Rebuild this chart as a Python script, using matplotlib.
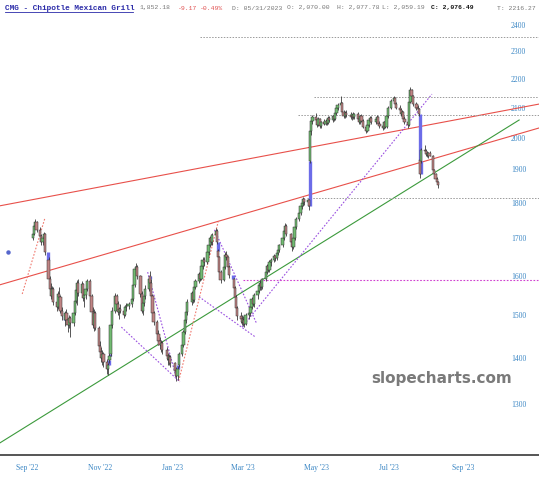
import matplotlib
matplotlib.use('Agg')
import matplotlib.pyplot as plt
import matplotlib.dates as mdates
from matplotlib.ticker import NullLocator, NullFormatter
import numpy as np
import pandas as pd

# ---------------- data ----------------
holidays = ['2022-11-24', '2022-12-26', '2023-01-02', '2023-01-16', '2023-02-20',
            '2023-04-07', '2023-05-29', '2023-06-19', '2023-07-04']
dates = pd.bdate_range('2022-09-06', '2023-08-11', freq='C', holidays=holidays)

opens = [
    1700,1712,1735,1745, 1722,1705,1688,1700,1712, 1640,1590,1565,1548,1566, 1532,1520,1552,1545,1512,
    1490,1505,1490,1478,1494, 1482,1505,1535,1562,1580, 1555,1578,1542,1550,1565, 1585,1548,1508,1478,1505, 1470,
    1428,1415,1400,1410, 1392,1375,1395,1410,1476, 1512,1548,1528,1508,1515, 1510,1502,1520,1524, 1528,1540,1575,
    1618,1622, 1598,1552,1512,1530,1548, 1565,1600,1582,1548,1505, 1485,1456,1440,1430,1435, 1418,1405,1398,1402,
    1388,1370,1360,1385, 1410,1430,1460,1490,1508, 1532,1555,1538,1570, 1585,1605,1592,1625,1640, 1635,1662,
    1682,1700,1688, 1708,1720,1665,1648,1608, 1588,1622,1655,1648,1622, 1590,1568,1545,1518, 1498,1492,
    1485,1490,1480, 1500,1505,1520,1540,1528, 1550,1560,1575,1580,1570, 1590,1610,1625,1615,1635, 1640,1652,1645,1660,1668,
    1680,1700,1720,1735, 1712,1690,1675,1700,1730, 1752,1770,1790,1800,1812, 1802,1808,1925,2022,2055,
    2068,2058,2042,2062,2038, 2050,2045,2056,2048,2065, 2058,2070,2062,2080,2100, 2108,2115,2085,2072,2082, 2075,2070,
    2076,2068, 2078,2062,2050,2070,2055, 2035,2022,2040,2058,2066, 2050,2062,2068,2046, 2038,2032,2050,2036,2070,
    2100, 2122,2132,2112, 2100,2092,2078,2085,2060, 2052,2040,2120,2160,2138, 2112,2100,2095,1930,1925, 1962,
    1958,1948,1945,1950, 1942,1898,1885,1872,1861.35,
]
highs = [
    1720,1740,1752,1748, 1730,1710,1705,1718,1715, 1650,1598,1580,1572,1570, 1545,1560,1570,1550,1520,
    1512,1515,1495,1500,1498, 1510,1540,1570,1588,1590, 1585,1582,1560,1572,1592, 1590,1552,1520,1515,1510, 1475,
    1440,1425,1418,1415, 1398,1390,1412,1482,1520, 1555,1552,1535,1520,1528, 1518,1525,1530,1532, 1545,1580,1625,
    1632,1628, 1602,1560,1535,1555,1575, 1600,1612,1590,1552,1510, 1490,1465,1448,1442,1440, 1425,1412,1410,1406,
    1392,1380,1382,1415, 1440,1465,1495,1515,1540, 1560,1565,1575,1590, 1610,1612,1630,1648,1650, 1668,1688,
    1705,1712,1715, 1728,1724,1670,1652,1615, 1628,1662,1665,1652,1628, 1595,1572,1550,1522, 1508,1500,
    1498,1495,1505, 1512,1525,1545,1548,1555, 1568,1580,1588,1585,1595, 1615,1630,1628,1640,1645, 1658,1655,1665,1672,1685,
    1705,1725,1742,1738, 1715,1695,1705,1735,1758, 1775,1795,1808,1818,1815, 1812,1812,2030,2060,2075,
    2080,2065,2068,2066,2055, 2062,2060,2065,2070,2072, 2075,2078,2085,2105,2115, 2138,2120,2092,2088,2090, 2085,2077.78,
    2085,2082, 2085,2070,2075,2078,2060, 2040,2045,2062,2072,2070, 2068,2075,2072,2055, 2045,2055,2058,2075,2105,
    2128, 2140,2135,2118, 2108,2100,2090,2088,2070, 2058,2125,2172,2165,2142, 2118,2110,2098,1935,1968, 1975,
    1965,1958,1955,1958, 1945,1902,1890,1878,1866,
]
lows = [
    1695,1708,1728,1718, 1700,1680,1682,1695,1655, 1585,1555,1540,1540,1525, 1510,1515,1540,1505,1490,
    1475,1485,1460,1470,1448, 1475,1500,1530,1525,1548, 1550,1535,1520,1540,1560, 1540,1500,1470,1462,1465, 1420,
    1405,1392,1385,1380, 1365,1362,1388,1405,1470, 1505,1520,1500,1492,1505, 1495,1498,1510,1515, 1520,1535,1570,
    1605,1590, 1545,1505,1500,1522,1540, 1560,1575,1540,1500,1478, 1450,1430,1420,1415,1410, 1395,1385,1385,1380,
    1360,1350,1352,1380, 1405,1425,1455,1482,1500, 1525,1530,1532,1565, 1580,1585,1588,1618,1625, 1630,1655,
    1675,1680,1682, 1700,1685,1640,1600,1580, 1585,1618,1640,1615,1595, 1560,1538,1510,1490, 1482,1478,
    1475,1472,1476, 1492,1498,1515,1522,1520, 1540,1555,1562,1562,1565, 1585,1605,1608,1610,1625, 1635,1638,1642,1655,1662,
    1675,1695,1715,1705, 1680,1665,1670,1695,1725, 1748,1765,1782,1792,1795, 1790,1780,1920,2010,2045,
    2050,2035,2038,2030,2032, 2040,2040,2040,2044,2050, 2052,2055,2058,2075,2090, 2100,2080,2065,2066,2068, 2060,2059.19,
    2062,2060, 2058,2045,2045,2050,2030, 2015,2018,2035,2050,2045, 2045,2055,2040,2030, 2025,2028,2030,2032,2065,
    2095, 2115,2105,2095, 2085,2070,2065,2055,2045, 2030,2038,2115,2130,2105, 2092,2085,2070,1875,1920, 1950,
    1940,1938,1935,1940, 1892,1878,1865,1855,1845,
]
closes = [
    1712,1735,1745,1722, 1705,1688,1700,1712,1662, 1592,1565,1548,1566,1532, 1520,1552,1545,1512,1498,
    1505,1490,1478,1494,1482, 1505,1535,1562,1580,1555, 1578,1542,1550,1565,1585, 1548,1508,1478,1505,1470, 1428,
    1415,1400,1410,1392, 1375,1385,1405,1476,1512, 1548,1528,1508,1515,1510, 1502,1520,1524,1528, 1540,1575,1618,
    1622,1598, 1552,1512,1530,1548,1565, 1592,1582,1548,1505,1485, 1456,1440,1430,1435,1418, 1405,1398,1402,1388,
    1370,1360,1375,1410, 1430,1460,1490,1508,1532, 1555,1538,1570,1585, 1605,1592,1625,1640,1635, 1662,1682,
    1700,1688,1708, 1720,1690,1648,1608,1588, 1622,1655,1648,1622,1602, 1568,1545,1518,1498, 1492,1485,
    1490,1480,1500, 1505,1520,1540,1528,1550, 1560,1575,1580,1570,1590, 1610,1625,1615,1635,1640, 1652,1645,1660,1668,1680,
    1700,1720,1735,1712, 1690,1675,1700,1730,1752, 1770,1790,1800,1812,1802, 1808,1790,2022,2055,2068,
    2058,2042,2062,2038,2050, 2045,2056,2048,2065,2058, 2070,2062,2080,2100,2108, 2115,2085,2072,2082,2075, 2068,2076.49,
    2068,2078, 2062,2050,2070,2055,2035, 2022,2040,2058,2066,2050, 2062,2068,2046,2038, 2032,2050,2036,2070,2100,
    2122, 2132,2112,2100, 2092,2078,2085,2060,2052, 2040,2120,2160,2138,2112, 2100,2095,2078,1885,1962, 1958,
    1948,1945,1950,1942, 1898,1885,1872,1861.35,1852.18,
]

price_ticks = [1300, 1400, 1500, 1600, 1700, 1800, 1900, 2000, 2100, 2200, 2300, 2400]
month_ticks = ['2022-09-01', '2022-11-01', '2023-01-01', '2023-03-01', '2023-05-01', '2023-07-01', '2023-09-01']
month_labels = ["Sep '22", "Nov '22", "Jan '23", "Mar '23", "May '23", "Jul '23", "Sep '23"]

# drawn trend lines: (start date, start price, end date, end price)
red_lines = [('2022-08-09', 1791, '2023-11-04', 2112),
             ('2022-08-09', 1576, '2023-11-04', 2032)]
green_line = ('2022-08-09', 1220, '2023-10-18', 2058)
red_dotted = [('2022-08-28', 1553, '2022-09-16', 1756),
              ('2023-01-06', 1349, '2023-02-08', 1745)]
purple_dotted = [('2022-11-19', 1472, '2023-01-07', 1347),
                 ('2022-12-11', 1609, '2023-01-04', 1356),
                 ('2023-01-23', 1546, '2023-03-11', 1449),
                 ('2023-02-05', 1723, '2023-03-12', 1482),
                 ('2023-02-28', 1472, '2023-08-06', 2146)]
magenta_level = ('2023-03-01', 1588)
gray_levels = [('2023-01-24', 2355), ('2023-04-29', 2136),
               ('2023-04-16', 2075), ('2023-04-23', 1815)]
blue_dot = ('2022-08-16', 1662)

# ---------------- figure ----------------
W, H = 539, 480
fig = plt.figure(figsize=(W / 100, H / 100), dpi=100)
ax = fig.add_axes([0, (H - 455) / H, 1, 435 / H])
ax.set_facecolor('white')
ax.set_yscale('log')

x = mdates.date2num(dates.to_pydatetime())
o = np.array(opens, float); h = np.array(highs, float)
l = np.array(lows, float); c = np.array(closes, float)
assert len(x) == len(o) == len(h) == len(l) == len(c)

up = c >= o
green, red = '#72bb72', '#c08484'
body_w = 1.9

# gap lines
prev_c = np.r_[np.nan, c[:-1]]
gap = np.abs(o - prev_c) > 3
ax.vlines(x[gap] - 0.4, np.minimum(prev_c[gap], o[gap]), np.maximum(prev_c[gap], o[gap]),
          color='#6c6ce8', lw=2.4, zorder=3)

ax.vlines(x, l, h, color='#3a3a3a', lw=0.6, zorder=4)
bot = np.minimum(o, c)
hgt = np.maximum(np.abs(c - o), 1.0)
ax.bar(x, hgt, bottom=bot, width=body_w, color=np.where(up, green, red),
       edgecolor='#303030', linewidth=0.35, zorder=5)

def dn(s):
    return mdates.date2num(pd.Timestamp(s).to_pydatetime())

for d0, p0, d1, p1 in red_lines:
    ax.plot([dn(d0), dn(d1)], [p0, p1], color='#e8504a', lw=0.8, zorder=2)
d0, p0, d1, p1 = green_line
ax.plot([dn(d0), dn(d1)], [p0, p1], color='#3c9a3c', lw=0.8, zorder=2)
for d0, p0, d1, p1 in red_dotted:
    ax.plot([dn(d0), dn(d1)], [p0, p1], color='#f07a70', lw=0.8, ls=(0, (1.5, 1.5)), zorder=2)
for d0, p0, d1, p1 in purple_dotted:
    ax.plot([dn(d0), dn(d1)], [p0, p1], color='#9a50e0', lw=0.8, ls=(0, (1.5, 1.5)), zorder=2)

sep1 = dn('2022-09-01')
x_left = sep1 - 27 / 1.1945
x_right = sep1 + (W - 27) / 1.1945
ax.hlines(magenta_level[1], dn(magenta_level[0]), x_right, color='#d040d0', lw=0.8,
          linestyles=[(0, (1.5, 1.5))], zorder=2)
for d0, p in gray_levels:
    ax.hlines(p, dn(d0), x_right, color='#9a9a9a', lw=0.7, linestyles=[(0, (1.5, 1.5))], zorder=2)
ax.plot([dn(blue_dot[0])], [blue_dot[1]], marker='o', ms=2.2, color='#5566cc', zorder=6)

ax.set_xlim(x_left, x_right)
ax.set_ylim(1196.8, 2419.5)

# y tick labels inside at right
ax.yaxis.tick_right()
ax.yaxis.set_minor_locator(NullLocator())
ax.yaxis.set_minor_formatter(NullFormatter())
ax.set_yticks(price_ticks)
ax.set_yticklabels([str(v) for v in price_ticks])
ax.tick_params(axis='y', length=0, pad=-(W - 511) * 0.72, labelsize=5.5,
               labelcolor='#3a86c4')
for t in ax.get_yticklabels():
    t.set_fontfamily('Liberation Serif')

ax.set_xticks([dn(m) for m in month_ticks])
ax.set_xticklabels(month_labels)
ax.tick_params(axis='x', length=0, pad=6.5, labelsize=5.5, labelcolor='#3a86c4')
for t in ax.get_xticklabels():
    t.set_fontfamily('Liberation Serif')

for s in ['top', 'left', 'right']:
    ax.spines[s].set_visible(False)
ax.spines['bottom'].set_color('#555555')
ax.spines['bottom'].set_linewidth(1.4)

# watermark
fig.text(442 / W, 1 - 378 / H, 'slopecharts.com', ha='center', va='center',
         fontsize=11, fontweight='bold', color='#7a7a7a', family='DejaVu Sans')

# header
hy = 1 - 8 / H
mono = 'Liberation Mono'
fig.text(5 / W, hy, 'CMG - Chipotle Mexican Grill', fontsize=5.6, fontweight='bold',
         color='#2a2aa8', family=mono, va='center')
fig.add_artist(plt.Line2D([5 / W, 133 / W], [1 - 12 / H, 1 - 12 / H], color='#2a2aa8', lw=0.6))
pieces = [(140, '1,852.18', '#777777', 'normal'),
          (178, '-9.17', '#e05050', 'normal'),
          (200, '-0.49%', '#e05050', 'normal'),
          (232, 'D: 05/31/2023', '#777777', 'normal'),
          (287, 'O: 2,070.00', '#777777', 'normal'),
          (337, 'H: 2,077.78', '#777777', 'normal'),
          (382, 'L: 2,059.19', '#777777', 'normal'),
          (431, 'C: 2,076.49', '#111111', 'bold'),
          (497, 'T: 2216.27', '#777777', 'normal')]
for px, s, col, wt in pieces:
    fig.text(px / W, hy, s, fontsize=4.6, color=col, fontweight=wt, family=mono, va='center')

fig.savefig('out.png', dpi=100, facecolor='white')
